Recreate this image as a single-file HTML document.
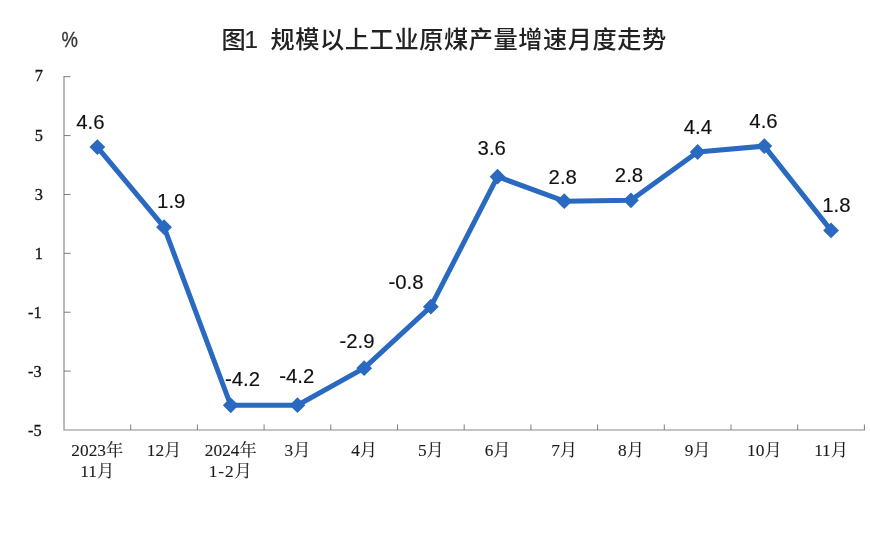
<!DOCTYPE html>
<html lang="zh-CN"><head><meta charset="utf-8"><title>图1 规模以上工业原煤产量增速月度走势</title>
<style>
html,body{margin:0;padding:0;background:#fff;}
body{width:870px;height:540px;overflow:hidden;}
svg{display:block;will-change:transform;}
.t{font-family:"Liberation Sans","Noto Sans CJK SC",sans-serif;font-size:24.2px;font-weight:500;fill:#222;}
.pc{font-family:"Liberation Sans",sans-serif;font-size:18.5px;fill:#333;stroke:#333;stroke-width:0.25px;}
.yl{font-family:"Liberation Serif",serif;font-size:17.2px;fill:#111;stroke:#111;stroke-width:0.3px;text-anchor:end;}
.xl{font-family:"Liberation Serif","Noto Serif CJK SC",serif;font-size:17.3px;font-weight:400;fill:#1c1c1c;stroke:#1c1c1c;stroke-width:0.12px;text-anchor:middle;}
.dl{font-family:"Liberation Sans",sans-serif;font-size:20.9px;fill:#111;stroke:#111;stroke-width:0.15px;text-anchor:middle;}
</style></head><body>
<svg width="870" height="540" viewBox="0 0 870 540">
<rect width="870" height="540" fill="#ffffff"/>
<text class="t" x="221.6" y="47.9">图</text>
<text class="t" x="244.6" y="47.9" style="stroke:#222;stroke-width:0.2px">1</text>
<text class="t" x="270.6" y="47.9" style="letter-spacing:0.57px">规模以上工业原煤产量增速月度走势</text>
<text class="pc" transform="translate(61.6 47.3) scale(1 1.2)">%</text>
<g stroke="#8a8a8a" stroke-width="1.15" fill="none">
<path d="M64.0 76.0V430.0H865.1"/>
<path d="M64.0 76.70h6.5" stroke="#777" stroke-width="0.95"/>
<path d="M64.0 135.58h6.5" stroke="#777" stroke-width="0.95"/>
<path d="M64.0 194.47h6.5" stroke="#777" stroke-width="0.95"/>
<path d="M64.0 253.35h6.5" stroke="#777" stroke-width="0.95"/>
<path d="M64.0 312.23h6.5" stroke="#777" stroke-width="0.95"/>
<path d="M64.0 371.12h6.5" stroke="#777" stroke-width="0.95"/>
<path d="M130.70 430.0v-5.5" stroke="#777" stroke-width="0.95"/>
<path d="M197.40 430.0v-5.5" stroke="#777" stroke-width="0.95"/>
<path d="M264.10 430.0v-5.5" stroke="#777" stroke-width="0.95"/>
<path d="M330.80 430.0v-5.5" stroke="#777" stroke-width="0.95"/>
<path d="M397.50 430.0v-5.5" stroke="#777" stroke-width="0.95"/>
<path d="M464.20 430.0v-5.5" stroke="#777" stroke-width="0.95"/>
<path d="M530.90 430.0v-5.5" stroke="#777" stroke-width="0.95"/>
<path d="M597.60 430.0v-5.5" stroke="#777" stroke-width="0.95"/>
<path d="M664.30 430.0v-5.5" stroke="#777" stroke-width="0.95"/>
<path d="M731.00 430.0v-5.5" stroke="#777" stroke-width="0.95"/>
<path d="M797.70 430.0v-5.5" stroke="#777" stroke-width="0.95"/>
<path d="M864.40 430.0v-5.5" stroke="#777" stroke-width="0.95"/>
</g>
<text class="yl" transform="translate(42.9 81.4) scale(0.95 1.03)">7</text>
<text class="yl" transform="translate(42.9 140.6) scale(0.95 1.03)">5</text>
<text class="yl" transform="translate(42.9 199.7) scale(0.95 1.03)">3</text>
<text class="yl" transform="translate(42.9 259.4) scale(0.95 1.03)">1</text>
<text class="yl" transform="translate(41.6 317.8) scale(0.95 1.03)">-1</text>
<text class="yl" transform="translate(41.6 376.9) scale(0.95 1.03)">-3</text>
<text class="yl" transform="translate(41.6 436.1) scale(0.95 1.03)">-5</text>
<text class="xl" x="97.3" y="455.6">2023年</text>
<text class="xl" x="97.3" y="476.9">11月</text>
<text class="xl" x="164.1" y="455.6">12月</text>
<text class="xl" x="230.8" y="455.6">2024年</text>
<text class="xl" style="letter-spacing:0.9px" x="230.8" y="476.9">1-2月</text>
<text class="xl" x="297.5" y="455.6">3月</text>
<text class="xl" x="364.2" y="455.6">4月</text>
<text class="xl" x="430.9" y="455.6">5月</text>
<text class="xl" x="497.6" y="455.6">6月</text>
<text class="xl" x="564.2" y="455.6">7月</text>
<text class="xl" x="631.0" y="455.6">8月</text>
<text class="xl" x="697.6" y="455.6">9月</text>
<text class="xl" x="764.4" y="455.6">10月</text>
<text class="xl" x="831.1" y="455.6">11月</text>
<path d="M97.35 147.05 L164.05 227.20 L230.75 405.30 L297.45 405.20 L364.15 368.15 L430.85 306.70 L497.55 176.65 L564.25 201.20 L630.95 200.30 L697.65 152.00 L764.35 146.10 L831.05 230.40" fill="none" stroke="#2969C0" stroke-width="5.0" stroke-linejoin="round" stroke-linecap="round"/>
<path d="M97.35 139.15L105.25 147.05L97.35 154.95L89.45 147.05Z" fill="#2969C0"/>
<path d="M164.05 219.30L171.95 227.20L164.05 235.10L156.15 227.20Z" fill="#2969C0"/>
<path d="M230.75 397.40L238.65 405.30L230.75 413.20L222.85 405.30Z" fill="#2969C0"/>
<path d="M297.45 397.30L305.35 405.20L297.45 413.10L289.55 405.20Z" fill="#2969C0"/>
<path d="M364.15 360.25L372.05 368.15L364.15 376.05L356.25 368.15Z" fill="#2969C0"/>
<path d="M430.85 298.80L438.75 306.70L430.85 314.60L422.95 306.70Z" fill="#2969C0"/>
<path d="M497.55 168.75L505.45 176.65L497.55 184.55L489.65 176.65Z" fill="#2969C0"/>
<path d="M564.25 193.30L572.15 201.20L564.25 209.10L556.35 201.20Z" fill="#2969C0"/>
<path d="M630.95 192.40L638.85 200.30L630.95 208.20L623.05 200.30Z" fill="#2969C0"/>
<path d="M697.65 144.10L705.55 152.00L697.65 159.90L689.75 152.00Z" fill="#2969C0"/>
<path d="M764.35 138.20L772.25 146.10L764.35 154.00L756.45 146.10Z" fill="#2969C0"/>
<path d="M831.05 222.50L838.95 230.40L831.05 238.30L823.15 230.40Z" fill="#2969C0"/>
<text class="dl" transform="translate(90.3 128.5) scale(0.975 1)">4.6</text>
<text class="dl" transform="translate(171.2 208.1) scale(0.975 1)">1.9</text>
<text class="dl" transform="translate(242.5 385.5) scale(0.975 1)">-4.2</text>
<text class="dl" transform="translate(296.7 383.3) scale(0.975 1)">-4.2</text>
<text class="dl" transform="translate(357 347.7) scale(0.975 1)">-2.9</text>
<text class="dl" transform="translate(406 289.2) scale(0.975 1)">-0.8</text>
<text class="dl" transform="translate(491.7 154.8) scale(0.975 1)">3.6</text>
<text class="dl" transform="translate(562.7 183.5) scale(0.975 1)">2.8</text>
<text class="dl" transform="translate(629 182.1) scale(0.975 1)">2.8</text>
<text class="dl" transform="translate(697.8 133.8) scale(0.975 1)">4.4</text>
<text class="dl" transform="translate(763.5 128.3) scale(0.975 1)">4.6</text>
<text class="dl" transform="translate(836.4 212.1) scale(0.975 1)">1.8</text>
</svg>
</body></html>
